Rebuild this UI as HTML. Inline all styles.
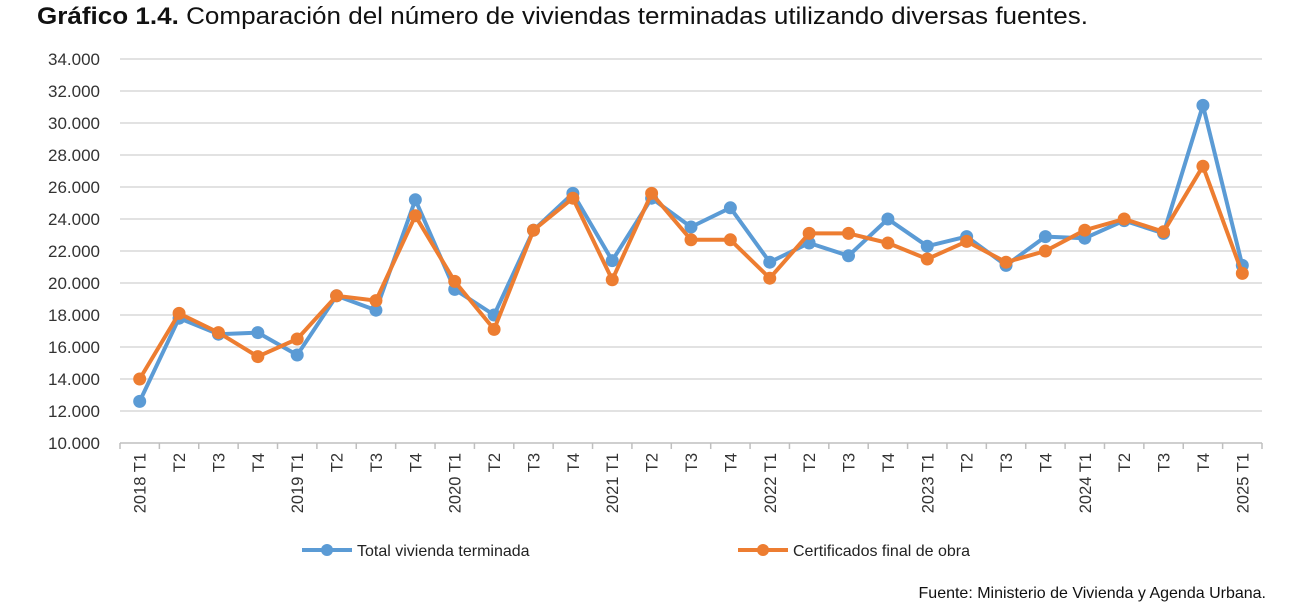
<!DOCTYPE html>
<html><head><meta charset="utf-8"><style>
html,body{margin:0;padding:0;background:#fff;width:1300px;height:607px;overflow:hidden}
svg{display:block;font-family:"Liberation Sans",sans-serif}
</style></head><body>
<svg id="chart" width="1300" height="607">
<text x="37" y="24" font-size="24" fill="#111" textLength="1051" lengthAdjust="spacingAndGlyphs"><tspan font-weight="bold">Gráfico 1.4.</tspan> Comparación del número de viviendas terminadas utilizando diversas fuentes.</text>
<g id="grid"></g><g id="yaxis"></g><g id="xaxis"></g><g id="series"></g>
<g>
<g>
<line x1="302" y1="550" x2="352" y2="550" stroke="#5b9bd5" stroke-width="4"/><circle cx="327" cy="550" r="6" fill="#5b9bd5"/>
<text x="357" y="556" font-size="16" fill="#222">Total vivienda terminada</text></g>
<g>
<line x1="738" y1="550" x2="788" y2="550" stroke="#ed7d31" stroke-width="4"/><circle cx="763" cy="550" r="6" fill="#ed7d31"/>
<text x="793" y="556" font-size="16" fill="#222">Certificados final de obra</text></g>
</g>
<text x="1266" y="598" font-size="16" fill="#111" text-anchor="end">Fuente: Ministerio de Vivienda y Agenda Urbana.</text>
</svg>
<script>
const categories=["2018 T1","T2","T3","T4","2019 T1","T2","T3","T4","2020 T1","T2","T3","T4","2021 T1","T2","T3","T4","2022 T1","T2","T3","T4","2023 T1","T2","T3","T4","2024 T1","T2","T3","T4","2025 T1"];
const totalVivienda=[12600,17800,16800,16900,15500,19200,18300,25200,19600,18000,23300,25600,21400,25300,23500,24700,21300,22500,21700,24000,22300,22900,21100,22900,22800,23900,23100,31100,21100];
const certificados=[14000,18100,16900,15400,16500,19200,18900,24200,20100,17100,23300,25300,20200,25600,22700,22700,20300,23100,23100,22500,21500,22600,21300,22000,23300,24000,23200,27300,20600];
const yTicks=[10000,12000,14000,16000,18000,20000,22000,24000,26000,28000,30000,32000,34000];
const yTickLabels=["10.000","12.000","14.000","16.000","18.000","20.000","22.000","24.000","26.000","28.000","30.000","32.000","34.000"];
const NS="http://www.w3.org/2000/svg";
const L=120,R=1262,T=59,B=443,yMin=10000,yMax=34000;
const band=(R-L)/categories.length;
const x=i=>L+band*(i+0.5);
const y=v=>B-(v-yMin)/(yMax-yMin)*(B-T);
function mk(tag,attrs,parent){const e=document.createElementNS(NS,tag);for(const k in attrs)e.setAttribute(k,attrs[k]);parent.appendChild(e);return e;}
const grid=document.getElementById('grid'),ya=document.getElementById('yaxis'),xa=document.getElementById('xaxis'),ser=document.getElementById('series');
yTicks.forEach((v,i)=>{
 if(i>0){const g=mk('line',{x1:L,x2:R,y1:y(v),y2:y(v),stroke:'#d9d9d9','stroke-width':1.5},grid);
 
 }
 const t=mk('text',{x:100,y:y(v)+6,'font-size':17,fill:'#333','text-anchor':'end'},ya);t.textContent=yTickLabels[i];
 
 
});
const ax=mk('line',{x1:L,x2:R,y1:B,y2:B,stroke:'#bfbfbf','stroke-width':1.5},xa);


for(let i=0;i<=categories.length;i++){const tk=mk('line',{x1:L+band*i,x2:L+band*i,y1:B,y2:B+6,stroke:'#bfbfbf','stroke-width':1.5},xa);
 
 }
categories.forEach((c,i)=>{
 const t=mk('text',{x:0,y:0,'font-size':16.5,fill:'#333','text-anchor':'end',transform:`translate(${x(i)+6},${B+10}) rotate(-90)`},xa);t.textContent=c;
 
 
});
function drawSeries(vals,color,name){
 const g=mk('g',{},ser);
 
 
 const p=mk('polyline',{points:vals.map((v,i)=>x(i)+','+y(v)).join(' '),fill:'none',stroke:color,'stroke-width':4,'stroke-linejoin':'round'},g);
 
 
 vals.forEach((v,i)=>{const c=mk('circle',{cx:x(i),cy:y(v),r:6.5,fill:color},g);
  
  });
}
drawSeries(totalVivienda,'#5b9bd5','series-total-vivienda');
drawSeries(certificados,'#ed7d31','series-certificados');
</script>
</body></html>
